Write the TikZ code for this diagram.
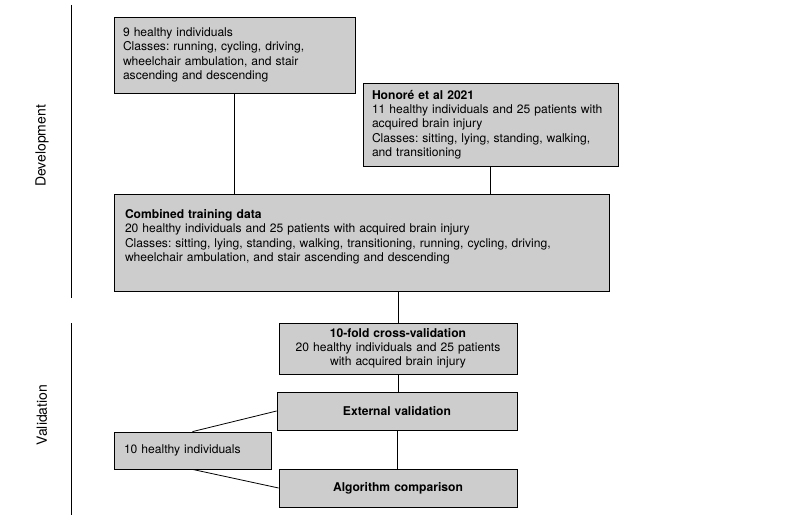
\documentclass[tikz,border=0pt]{standalone}
\usepackage{fontspec}
\setmainfont{TeX Gyre Heros}
\usepackage{tikz}
\definecolor{boxgray}{RGB}{205,205,205}
\frenchspacing

\begin{document}
\begin{tikzpicture}[x = 1pt, y = -1pt, font = \fontsize{12.1}{14.3}\selectfont,
        databox/.style = {draw, fill = boxgray, line width = 0.8pt, inner ysep = 0pt},
        sidelabel/.style = {rotate = 90, font = \fontsize{14}{17}\selectfont},
        link/.style = {line width = 0.8pt}]
            \useasboundingbox (0,0) rectangle (800,521);

            % phase labels and separators
            \node[sidelabel] (dev) at (42,146) {Development};
            \node[sidelabel] (val) at (42,415) {Validation};
            \draw [link] (71,5) -- (71,298);
            \draw [link] (71,323) -- (71,515);

            % development
            \node[databox, align = left, text width = 223pt, inner xsep = 9pt,
                minimum height = 76pt] (nine) at (234.5,55)
                {9 healthy individuals\\
                Classes: running, cycling, driving,\\
                wheelchair ambulation, and stair\\
                ascending and descending};

            \node[databox, align = left, text width = 237pt, inner xsep = 9pt,
                minimum height = 83pt] (honore) at (490.5,124.5)
                {\textbf{Honoré et al 2021}\\
                11 healthy individuals and 25 patients with\\
                acquired brain injury\\
                Classes: sitting, lying, standing, walking,\\
                and transitioning};

            \node[databox, align = left, text width = 473pt, inner xsep = 11pt,
                minimum height = 97pt] (combined) at (361.5,242.5)
                {\textbf{Combined training data}\\
                20 healthy individuals and 25 patients with acquired brain injury\\
                Classes: sitting, lying, standing, walking, transitioning, running, cycling, driving,\\
                wheelchair ambulation, and stair ascending and descending\\
                \mbox{}};

            % validation
            \node[databox, align = center, text width = 222pt, inner xsep = 8pt,
                minimum height = 51pt] (crossval) at (398,348.5)
                {\textbf{10-fold cross-validation}\\
                20 healthy individuals and 25 patients\\
                with acquired brain injury};

            \node[databox, align = center, text width = 224pt, inner xsep = 8pt,
                minimum height = 38pt] (external) at (397,411)
                {\textbf{External validation}};

            \node[databox, align = left, text width = 137pt, inner xsep = 10pt,
                minimum height = 37pt] (ten) at (192.5,450.5)
                {10 healthy individuals};

            \node[databox, align = center, text width = 222pt, inner xsep = 8pt,
                minimum height = 38pt] (algo) at (398,488)
                {\textbf{Algorithm comparison}};

            % connectors
            \draw [link] (nine.south) -- (nine.south |- combined.north);
            \draw [link] (honore.south) -- (honore.south |- combined.north);
            \draw [link] (crossval.north |- combined.south) -- (crossval.north);
            \draw [link] (crossval.south) -- (crossval.south |- external.north);
            \draw [link] (external.south) -- (external.south |- algo.north);
            \draw [link] (ten.north) -- (external.west);
            \draw [link] (ten.south) -- (algo.west);
        \end{tikzpicture}
\end{document}
